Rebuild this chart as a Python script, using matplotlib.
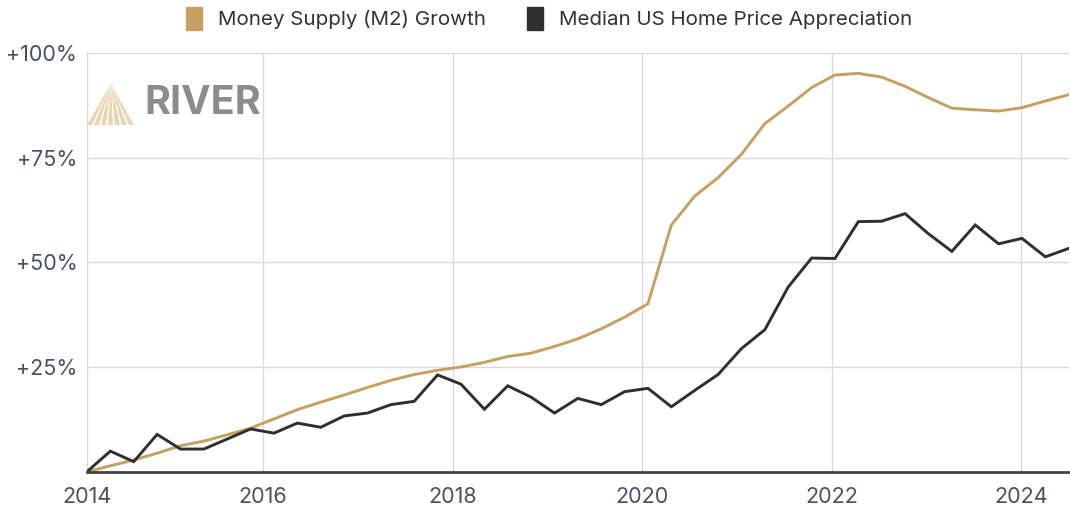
import numpy as np
import matplotlib
matplotlib.use("Agg")
import matplotlib.pyplot as plt
from matplotlib.patches import Polygon, FancyBboxPatch

# ---- palette ----
GOLD = "#C6A062"
INK = "#2F2F2F"
GRID = "#DADADA"
TICK = "#4A4F66"
LOGO_GRAY = "#8C8C8C"
LOGO_GOLD = "#E8D5B4"

plt.rcParams["font.family"] = ["Inter", "DejaVu Sans"]

# ---- data (quarterly, % change since start of 2014) ----
start_year = 2014.139
step_year = 0.2468
m2_growth = [0.0, 1.4, 2.8, 4.4, 6.2, 7.3, 8.8, 10.4, 12.6, 14.8,
             16.6, 18.3, 20.1, 21.8, 23.2, 24.2, 25.0, 26.1, 27.5, 28.3,
             29.9, 31.7, 34.1, 36.9, 40.1, 58.9, 65.8, 70.2, 75.8, 83.1,
             87.3, 91.7, 94.7, 95.1, 94.2, 92.0, 89.3, 86.8, 86.4, 86.1,
             86.9, 88.5, 90.0]
home_price = [0.0, 4.9, 2.4, 8.9, 5.4, 5.4, 7.8, 10.2, 9.2, 11.6,
              10.6, 13.3, 14.0, 16.0, 16.8, 23.1, 20.9, 14.9, 20.5, 17.8,
              14.0, 17.5, 16.0, 19.1, 19.9, 15.5, 19.4, 23.2, 29.4, 33.9,
              44.1, 51.0, 50.9, 59.7, 59.8, 61.6, 56.8, 52.6, 58.9, 54.4,
              55.7, 51.3, 53.3]
year_ticks = [2016, 2018, 2020, 2022, 2024]
y_ticks = [25, 50, 75, 100]

x = start_year + step_year * np.arange(len(m2_growth))

fig = plt.figure(figsize=(10.7, 5.08), dpi=100)
ax = fig.add_axes([0.0813, 0.0715, 0.9175, 0.8245])

ax.plot(x, m2_growth, color=GOLD, lw=2.1, solid_joinstyle="miter", zorder=3)
ax.plot(x, home_price, color=INK, lw=2.1, solid_joinstyle="miter", zorder=4)

ax.set_xlim(x[0], x[-1])
ax.set_ylim(0, 100)

ax.set_xticks([x[0]] + year_ticks)
ax.set_xticklabels(["2014"] + [str(y) for y in year_ticks])
ax.set_yticks(y_ticks)
ax.set_yticklabels([f"+{v}%" for v in y_ticks])

ax.grid(True, color=GRID, lw=1.0)
ax.set_axisbelow(True)
for s in ("top", "right"):
    ax.spines[s].set_visible(False)
ax.spines["left"].set_color(GRID)
ax.spines["bottom"].set_color("#444444")
ax.spines["bottom"].set_linewidth(2.0)
ax.spines["bottom"].set_zorder(5)
ax.tick_params(length=0, labelsize=15.5, colors=TICK)
ax.tick_params(axis="x", pad=11)
ax.tick_params(axis="y", pad=7)

# ---- legend (top centre) ----
handles = [FancyBboxPatch((0, 0), 1, 1, color=GOLD),
           FancyBboxPatch((0, 0), 1, 1, color=INK)]
fig.legend(handles, ["Money Supply (M2) Growth", "Median US Home Price Appreciation"],
           loc="upper center", bbox_to_anchor=(0.513, 1.022), ncol=2, frameon=False,
           fontsize=14.8, handlelength=0.8, handleheight=1.3, handletextpad=0.75,
           columnspacing=2.0, labelcolor="#333333")

# ---- RIVER logo ----
W, H = 1070.0, 508.0
def fx(px):
    return px / W
def fy(py):
    return 1 - py / H

apex = (111, 84)
base_pts = np.linspace(87, 136, 8)
for i in range(len(base_pts) - 1):
    a = base_pts[i]
    b = base_pts[i] + (base_pts[i + 1] - base_pts[i]) * 0.7
    poly = Polygon([(fx(apex[0]), fy(apex[1])), (fx(a), fy(125)), (fx(b), fy(125))],
                   closed=True, transform=fig.transFigure, color=LOGO_GOLD,
                   lw=0, zorder=6)
    fig.patches.append(poly)
fig.text(fx(144), fy(104), "RIVER", fontsize=28.5, fontweight="bold",
         color=LOGO_GRAY, va="center", ha="left")

fig.savefig("out.png", dpi=100, facecolor="white")
